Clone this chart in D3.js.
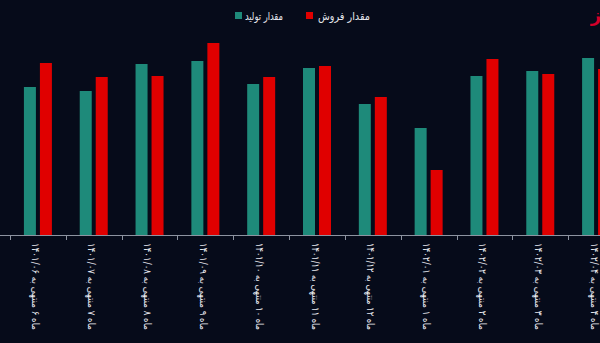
<!DOCTYPE html>
<html>
<head>
<meta charset="utf-8">
<script src="https://cdn.jsdelivr.net/npm/d3@7"></script>
<style>
  html, body { margin: 0; padding: 0; background: #060b1a; overflow: hidden; }
  svg { display: block; }
</style>
</head>
<body>
<svg id="chart" width="600" height="343"></svg>
<script>
// Monthly production vs. sales (trailing periods)
const categories = [
  "ماه ۶ منتهی به ۱۴۰۱/۰۶",
  "ماه ۷ منتهی به ۱۴۰۱/۰۷",
  "ماه ۸ منتهی به ۱۴۰۱/۰۸",
  "ماه ۹ منتهی به ۱۴۰۱/۰۹",
  "ماه ۱۰ منتهی به ۱۴۰۱/۱۰",
  "ماه ۱۱ منتهی به ۱۴۰۱/۱۱",
  "ماه ۱۲ منتهی به ۱۴۰۱/۱۲",
  "ماه ۱ منتهی به ۱۴۰۲/۰۱",
  "ماه ۲ منتهی به ۱۴۰۲/۰۲",
  "ماه ۳ منتهی به ۱۴۰۲/۰۳",
  "ماه ۴ منتهی به ۱۴۰۲/۰۴"
];
const production = [148, 144, 171, 174, 151, 167, 131, 107, 159, 164, 177];
const sales      = [172, 158, 159, 192, 158, 169, 138, 65, 176, 161, 166];

const seriesNames = ["مقدار تولید", "مقدار فروش"];
const seriesColors = ["#1e8a7a", "#e00000"];

const svg = d3.select("#chart");

const x = d3.scaleBand().domain(categories).range([10, 624]).paddingInner(0).paddingOuter(0);
const xSub = d3.scaleBand().domain([0, 1]).range([0, x.bandwidth()])
  .paddingInner(0.25).paddingOuter(0.87);
const y = d3.scaleLinear().domain([0, 200]).range([235, 35]);

const rows = categories.map((c, i) => ({ cat: c, vals: [production[i], sales[i]] }));

// bars
const groups = svg.append("g").selectAll("g").data(rows).join("g")
  .attr("transform", d => `translate(${x(d.cat)},0)`);
groups.selectAll("rect").data(d => d.vals.map((v, k) => ({ v, k }))).join("rect")
  .attr("x", d => xSub(d.k))
  .attr("width", xSub.bandwidth())
  .attr("y", d => y(d.v))
  .attr("height", d => y(0) - y(d.v))
  .attr("fill", d => seriesColors[d.k]);

// x axis: baseline with ticks at band boundaries
const axis = svg.append("g");
axis.append("line")
  .attr("x1", 0).attr("x2", 600)
  .attr("y1", y(0) + 0.5).attr("y2", y(0) + 0.5)
  .attr("stroke", "#8d93a0").attr("stroke-width", 1);
const bounds = categories.map(c => x(c)).concat([x.range()[1]]);
axis.selectAll("line.tick").data(bounds).join("line")
  .attr("class", "tick")
  .attr("x1", d => Math.round(d) + 0.5).attr("x2", d => Math.round(d) + 0.5)
  .attr("y1", y(0)).attr("y2", y(0) + 5)
  .attr("stroke", "#8d93a0");

axis.selectAll("text").data(categories).join("text")
  .attr("transform", d => `translate(${x(d) + x.bandwidth() / 2 - 2},243) rotate(90)`)
  .attr("direction", "rtl")
  .attr("text-anchor", "end")
  .attr("dominant-baseline", "central")
  .attr("fill", "#e6e8ee")
  .attr("font-family", "DejaVu Sans, sans-serif")
  .attr("font-size", 10)
  .attr("textLength", 87)
  .attr("lengthAdjust", "spacingAndGlyphs")
  .text(d => d);

// legend
const legendItems = [
  { name: seriesNames[0], color: seriesColors[0], sq: 235, tx: 283, w: 38 },
  { name: seriesNames[1], color: seriesColors[1], sq: 306, tx: 370, w: 52 }
];
const lg = svg.append("g");
lg.selectAll("rect").data(legendItems).join("rect")
  .attr("x", d => d.sq).attr("y", 12)
  .attr("width", 7).attr("height", 7)
  .attr("fill", d => d.color);
lg.selectAll("text").data(legendItems).join("text")
  .attr("x", d => d.tx).attr("y", 16)
  .attr("direction", "rtl")
  .attr("text-anchor", "start")
  .attr("dominant-baseline", "central")
  .attr("fill", "#e6e8ee")
  .attr("font-family", "DejaVu Sans, sans-serif")
  .attr("font-size", 11)
  .attr("textLength", d => d.w)
  .attr("lengthAdjust", "spacingAndGlyphs")
  .text(d => d.name);

// brand mark in the corner
svg.append("text")
  .attr("x", 601).attr("y", 22)
  .attr("text-anchor", "end")
  .attr("fill", "#d4002a")
  .attr("font-family", "DejaVu Sans, sans-serif")
  .attr("font-weight", "bold")
  .attr("font-size", 18)
  .text("ز");
</script>
</body>
</html>
